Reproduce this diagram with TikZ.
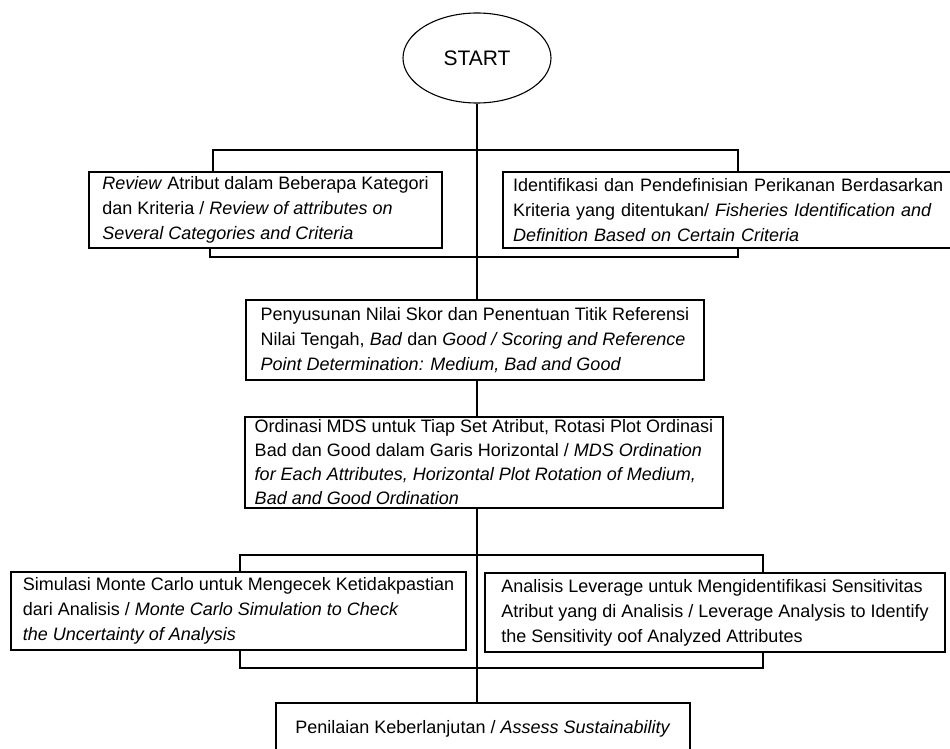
\documentclass[tikz,border=0pt]{standalone}
\usepackage{fontspec}
\setmainfont{Liberation Sans}
\usetikzlibrary{shapes.geometric}
\tikzset{
  box/.style={draw, rectangle, line width=1.6pt, align=left,
    font=\fontsize{18}{25}\selectfont, inner xsep=0pt, inner ysep=0pt},
  link/.style={line width=2.4pt},
}
\begin{document}
\begin{tikzpicture}[x=1pt,y=-1pt]
      \useasboundingbox (0,0) rectangle (950,749);
      \draw
        (477,58) node[ellipse, draw, line width=1.1pt, minimum width=148pt, minimum height=90pt,
          font=\fontsize{21}{24}\selectfont] (start){START}
        (265.5,210) node[box, minimum width=353pt, minimum height=76pt] (review){\textit{Review} Atribut dalam Beberapa Kategori\\
          dan Kriteria / \textit{Review of attributes on}\\ \textit{Several Categories and Criteria}}
        (735.5,210) node[box, inner xsep=10pt, text width=445pt, minimum height=76pt] (ident){Identifikasi dan Pendefinisian Perikanan Berdasarkan\\
          Kriteria yang ditentukan/ \textit{Fisheries Identification and}\\ \textit{Definition Based on Certain Criteria}}
        (475,340) node[box, minimum width=458pt, minimum height=80pt] (skor){Penyusunan Nilai Skor dan Penentuan Titik Referensi\\
          Nilai Tengah, \textit{Bad} dan \textit{Good / Scoring and Reference}\\ \textit{Point Determination: Medium, Bad and Good}}
        (484,462.5) node[box, minimum width=478pt, minimum height=91pt, font=\fontsize{18}{24}\selectfont] (mds){Ordinasi MDS untuk Tiap Set Atribut, Rotasi Plot Ordinasi\\
          Bad dan Good dalam Garis Horizontal / \textit{MDS Ordination}\\ \textit{for Each Attributes, Horizontal Plot Rotation of Medium,}\\
          \textit{Bad and Good Ordination}}
        (238.5,611) node[box, minimum width=455pt, minimum height=78pt] (monte){Simulasi Monte Carlo untuk Mengecek Ketidakpastian\\
          dari Analisis / \textit{Monte Carlo Simulation to Check}\\ \textit{the Uncertainty of Analysis}}
        (715,612.5) node[box, minimum width=460pt, minimum height=79pt] (lev){Analisis Leverage untuk Mengidentifikasi Sensitivitas\\
          Atribut yang di Analisis / Leverage Analysis to Identify\\ the Sensitivity oof Analyzed Attributes}
        (483,729) node[box, minimum width=414pt, minimum height=52pt] (nilai){Penilaian Keberlanjutan / \textit{Assess Sustainability}};
      \coordinate (a1) at (213,150);
      \coordinate (a2) at (738,150);
      \coordinate (b1) at (210,257);
      \coordinate (b2) at (738,257);
      \coordinate (c1) at (240,555);
      \coordinate (c2) at (763,555);
      \coordinate (d1) at (240,668);
      \coordinate (d2) at (763,668);
      \begin{scope}[link]
        \draw (start.south) to (start.south |- skor.north);
        \draw (a1 |- review.north) -- (a1) -- (a2) -- (a2 |- ident.north);
        \draw (b1 |- review.south) -- (b1) -- (b2) -- (b2 |- ident.south);
        \draw (skor.south -| start.south) to (mds.north -| start.south);
        \draw (mds.south -| start.south) to (nilai.north -| start.south);
      \end{scope}
      \begin{scope}[link, line width=2pt]
        \draw (c1 |- monte.north) -- (c1) -- (c2) -- (c2 |- lev.north);
        \draw (d1 |- monte.south) -- (d1) -- (d2) -- (d2 |- lev.south);
      \end{scope}
    \end{tikzpicture}
\end{document}
